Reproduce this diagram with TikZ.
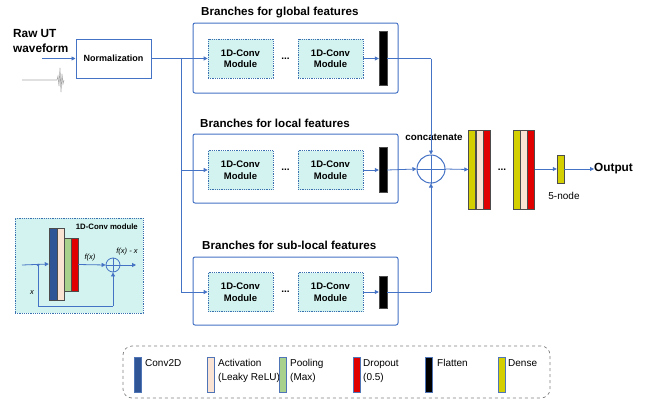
\documentclass[tikz,border=0pt]{standalone}
\usepackage{fontspec}
\setmainfont{Liberation Sans}
\usetikzlibrary{arrows.meta}
\definecolor{lblue}{HTML}{4472C4}
\definecolor{mfill}{HTML}{D2F3EF}
\definecolor{mborder}{HTML}{3A6FB0}
\definecolor{cconv}{HTML}{2F5597}
\definecolor{cact}{HTML}{FBE3D4}
\definecolor{cpool}{HTML}{A9D18E}
\definecolor{cdrop}{HTML}{E00000}
\definecolor{cdense}{HTML}{D4CF00}
\begin{document}
\begin{tikzpicture}[x=1pt,y=-1pt,
  ln/.style={draw=lblue, line width=0.8pt},
  arr/.style={draw=lblue, line width=0.8pt, -{Triangle[length=4pt,width=4pt]}},
  branchbox/.style={draw=lblue, line width=1pt, rounded corners=2pt, minimum width=205pt, inner sep=0pt},
  title/.style={font=\fontsize{11.6}{13}\selectfont\bfseries, anchor=west, inner sep=0pt},
  convmod/.style={draw=mborder, line width=0.7pt, dash pattern=on 1pt off 0.8pt, fill=mfill, minimum width=65pt, minimum height=39pt, inner sep=0pt, align=center, font=\fontsize{9.5}{11.5}\selectfont\bfseries},
  flat/.style={fill=black, draw=gray!60!black, line width=0.4pt, minimum width=8pt, inner sep=0pt},
  bar/.style={draw=gray!60!black, line width=0.4pt, minimum width=7pt, inner sep=0pt},
  lbar/.style={draw=lblue!80!gray, line width=0.6pt, minimum width=7pt, minimum height=35pt, inner sep=0pt},
  ltext/.style={anchor=north west, inner sep=0pt, align=left, font=\fontsize{10}{14}\selectfont},
  dots/.style={font=\fontsize{10}{10}\selectfont\bfseries, inner sep=0pt}
]
\useasboundingbox (0,0) rectangle (649,402);

% input
\node[anchor=west, inner sep=0pt, align=left, font=\fontsize{11.8}{14.5}\selectfont\bfseries] (raw) at (13,41) {Raw UT\\waveform};
\node[draw=lblue, line width=1pt, minimum width=75pt, minimum height=39pt, inner sep=0pt, font=\fontsize{9}{10}\selectfont\bfseries] (norm) at (113.5,58.5) {Normalization};
\coordinate (in) at (42,58.5);
\draw[arr] (in) -- (norm.west);
% waveform sketch
\draw[gray!70, line width=0.6pt] (22,80) -- (57,80) -- (58,76) -- (59,86) -- (60,68) -- (61,92) -- (62,74) -- (63,84) -- (64,80);

% branch boxes
\node[branchbox, minimum height=70pt] (gbox) at (295.5,58) {};
\node[branchbox, minimum height=69pt] (lbox) at (295.5,168.5) {};
\node[branchbox, minimum height=68pt] (sbox) at (295.5,291) {};
\node[title] (gt) at (201,13) {Branches for global features};
\node[title] (lt) at (200,123) {Branches for local features};
\node[title] (st) at (202,245) {Branches for sub-local features};

% modules
\node[convmod] (g1) at (240.5,58.5) {1D-Conv\\Module};
\node[convmod] (g2) at (330.5,58.5) {1D-Conv\\Module};
\node[dots] (gd) at (285.5,59) {...};
\node[convmod] (l1) at (240.5,170) {1D-Conv\\Module};
\node[convmod] (l2) at (330.5,170) {1D-Conv\\Module};
\node[dots] (ld) at (285.5,170) {...};
\node[convmod] (s1) at (240.5,292) {1D-Conv\\Module};
\node[convmod] (s2) at (330.5,292) {1D-Conv\\Module};
\node[dots] (sd) at (285.5,292) {...};

% flatten
\node[flat, minimum height=54pt] (gf) at (383,58.5) {};
\node[flat, minimum height=45pt] (lf) at (383,170) {};
\node[flat, minimum height=32pt] (sf) at (383,292) {};

% feed lines
\coordinate (split) at (181,58.5);
\coordinate (lsplit) at (181,170);
\coordinate (ssplit) at (181,292);
\draw[arr] (norm.east) -- (g1.west);
\draw[ln] (split) -- (ssplit);
\draw[arr] (lsplit) -- (l1.west);
\draw[arr] (ssplit) -- (s1.west);
\draw[arr] (g2.east) -- (gf.west);
\draw[arr] (l2.east) -- (lf.west);
\draw[arr] (s2.east) -- (sf.west);

% concatenate
\node[circle, draw=lblue, line width=1pt, minimum size=28pt, inner sep=0pt] (cat) at (431,169) {};
\draw[ln] (cat.north) -- (cat.south) (cat.west) -- (cat.east);
\node[inner sep=0pt, font=\fontsize{9.8}{11}\selectfont\bfseries] (catl) at (434,137) {concatenate};
\coordinate (gc) at (431,58.5);
\coordinate (sc) at (431,292);
\draw[ln] (gf.east) -- (gc);
\draw[arr] (gc) -- (cat.north);
\draw[ln] (sf.east) -- (sc);
\draw[arr] (sc) -- (cat.south);
\draw[arr] (lf.east) -- (cat.west);

% dense groups
\node[bar, fill=cdense, minimum height=79pt] (d1a) at (472,169.5) {};
\node[bar, fill=cact, minimum height=79pt] (d1b) at (479.5,169.5) {};
\node[bar, fill=cdrop, minimum height=79pt] (d1c) at (486.5,169.5) {};
\node[dots] (dd) at (502,170) {...};
\node[bar, fill=cdense, minimum height=79pt] (d2a) at (516.5,169.5) {};
\node[bar, fill=cact, minimum height=79pt] (d2b) at (523.5,169.5) {};
\node[bar, fill=cdrop, minimum height=79pt] (d2c) at (531,169.5) {};
\draw[arr] (cat.east) -- (d1a.west);
\node[bar, fill=cdense, minimum height=28pt] (five) at (560.5,169) {};
\draw[arr] (d2c.east |- five.west) -- (five.west);
\node[inner sep=0pt, font=\fontsize{10}{11}\selectfont] (fivel) at (564,196) {5-node};
\node[anchor=west, inner sep=0pt, font=\fontsize{11.8}{13}\selectfont\bfseries] (out) at (594,169) {Output};
\draw[arr] (five.east) -- (out.west);

% inset module
\node[draw=mborder, line width=0.7pt, dash pattern=on 1.2pt off 1pt, fill=mfill, minimum width=128pt, minimum height=95pt, inner sep=0pt] (inset) at (79,265.5) {};
\node[anchor=east, inner sep=0pt, font=\fontsize{7.8}{9}\selectfont\bfseries] (insett) at (138,227) {1D-Conv module};
\node[bar, fill=cconv, minimum width=8pt, minimum height=72pt] (ib1) at (53,264) {};
\node[bar, fill=cact, minimum height=72pt] (ib2) at (60.5,264) {};
\node[bar, fill=cpool, minimum height=53pt] (ib3) at (67.5,264.5) {};
\node[bar, fill=cdrop, minimum height=53pt] (ib4) at (74.5,264.5) {};
\node[circle, draw=lblue, line width=0.8pt, minimum size=14pt, inner sep=0pt] (isum) at (113,265) {};
\draw[ln] (isum.north) -- (isum.south) (isum.west) -- (isum.east);
\coordinate (iin) at (22,265);
\coordinate (idot) at (38,265);
\coordinate (iout) at (136,265);
\coordinate (iskip1) at (38,306);
\coordinate (iskip2) at (113,306);
\draw[arr] (iin) -- (ib1.west);
\fill[lblue] (idot) circle (1.3pt);
\draw[ln] (idot) -- (iskip1) -- (iskip2);
\draw[arr] (iskip2) -- (isum.south);
\draw[arr] (ib4.east) -- (isum.west);
\draw[arr] (isum.east) -- (iout);
\node[inner sep=0pt, font=\fontsize{7.5}{8}\selectfont\itshape] (fx) at (90,258) {f(x)};
\node[inner sep=0pt, font=\fontsize{7.5}{8}\selectfont\itshape] (fxx) at (127,252) {f(x) - x};
\node[inner sep=0pt, font=\fontsize{7.5}{8}\selectfont\itshape] (xl) at (32,293) {x};

% legend
\node[draw=gray, line width=0.7pt, dashed, rounded corners=9pt, minimum width=427pt, minimum height=52pt, inner sep=0pt] (legend) at (336.5,372) {};
\node[lbar, fill=cconv] (lg1) at (137.5,374.5) {};
\node[ltext] (lg1t) at (145,359) {Conv2D};
\node[lbar, fill=cact] (lg2) at (210.5,374.5) {};
\node[ltext] (lg2t) at (218,359) {Activation\\(Leaky ReLU)};
\node[lbar, fill=cpool] (lg3) at (282.5,374.5) {};
\node[ltext] (lg3t) at (290,359) {Pooling\\(Max)};
\node[lbar, fill=cdrop] (lg4) at (356.5,374.5) {};
\node[ltext] (lg4t) at (363,359) {Dropout\\(0.5)};
\node[lbar, fill=black] (lg5) at (428.5,374.5) {};
\node[ltext] (lg5t) at (437,359) {Flatten};
\node[lbar, fill=cdense] (lg6) at (501.5,374.5) {};
\node[ltext] (lg6t) at (508,359) {Dense};
\end{tikzpicture}
\end{document}
